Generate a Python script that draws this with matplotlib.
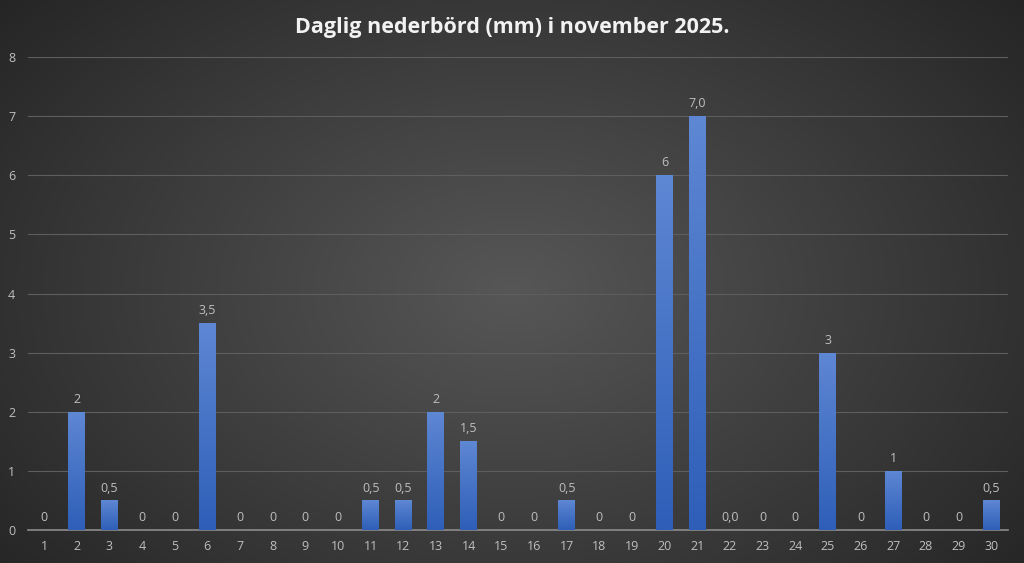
import matplotlib
matplotlib.use('Agg')
import matplotlib.pyplot as plt
import numpy as np

plt.rcParams['font.family'] = ['Open Sans', 'DejaVu Sans']

# Data: daily precipitation (mm), November 2025
days = [str(d) for d in range(1, 31)]
values = [0, 2, 0.5, 0, 0, 3.5, 0, 0, 0, 0,
          0.5, 0.5, 2, 1.5, 0, 0, 0.5, 0, 0, 6,
          7, 0, 0, 0, 3, 0, 1, 0, 0, 0.5]
labels = ['0', '2', '0,5', '0', '0', '3,5', '0', '0', '0', '0',
          '0,5', '0,5', '2', '1,5', '0', '0', '0,5', '0', '0', '6',
          '7,0', '0,0', '0', '0', '3', '0', '1', '0', '0', '0,5']
yticks = list(range(0, 9))
title = 'Daglig nederbörd (mm) i november 2025.'

TEXT_COLOR = '#bfbfbf'

fig = plt.figure(figsize=(10.24, 5.63), dpi=100)

# Radial gradient background
bg = fig.add_axes([0, 0, 1, 1], zorder=-10)
yy, xx = np.mgrid[0:563, 0:1024]
r = np.sqrt(((xx - 512) / 620) ** 2 + ((yy - 290) / 420) ** 2)
shade = np.clip(0.34 - 0.18 * r, 0.14, 0.34)
bg.imshow(np.dstack([shade, shade, shade]), aspect='auto', extent=[0, 1, 0, 1])
bg.axis('off')

ax = fig.add_axes([0.027, 0.0586, 0.957, 0.840])
ax.patch.set_alpha(0)
x = np.arange(len(days))
bars = ax.bar(x, values, width=0.52, color='#4472c4', zorder=3)

# Vertical gradient inside each bar
grad = np.linspace(0, 1, 256).reshape(-1, 1)
top = np.array([0.37, 0.53, 0.83])
bot = np.array([0.18, 0.37, 0.72])
img = (bot[None, None, :] * (1 - grad[..., None]) + top[None, None, :] * grad[..., None])
for b, v in zip(bars, values):
    if v <= 0:
        continue
    x0 = b.get_x()
    im = ax.imshow(img, extent=[x0, x0 + b.get_width(), 0, v], origin='lower',
                   aspect='auto', zorder=3)
    im.set_clip_path(b)

for xi, v, lab in zip(x, values, labels):
    ax.text(xi, v + 0.1, lab, ha='center', va='bottom', color=TEXT_COLOR, fontsize=9)

ax.set_xlim(-0.5, len(days) - 0.5)
ax.set_ylim(0, 8)
ax.set_yticks(yticks)
ax.set_xticks(x)
ax.set_xticklabels(days)
ax.tick_params(axis='both', length=0, colors=TEXT_COLOR, labelsize=9)
ax.tick_params(axis='y', pad=9)
ax.tick_params(axis='x', pad=7)
ax.grid(axis='y', color='#5e5e5e', linewidth=0.8, zorder=0)
for s in ['top', 'right', 'left']:
    ax.spines[s].set_visible(False)
ax.spines['bottom'].set_color('#8c8c8c')
ax.spines['bottom'].set_linewidth(1.2)

fig.text(0.5, 0.952, title, ha='center', va='center',
         color='#f2f2f2', fontsize=15.5, fontweight='bold')

fig.savefig('out.png', dpi=100)
